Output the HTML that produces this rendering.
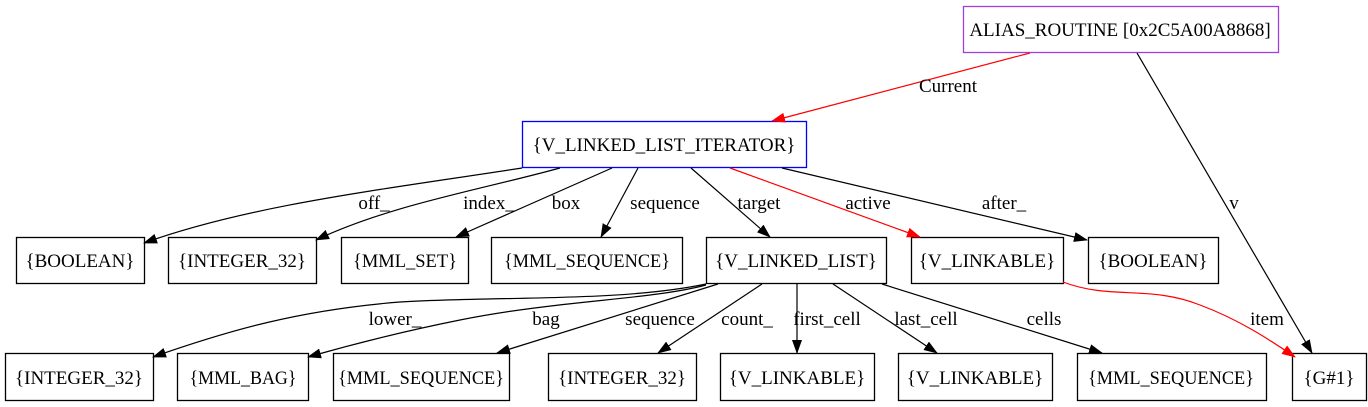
<!DOCTYPE html>
<html><head><meta charset="utf-8"><style>
html,body{margin:0;padding:0;background:#fff;}
svg{display:block;}
text{font-family:"Liberation Serif",serif;font-size:19px;fill:#000;}
</style></head><body>
<svg width="1368" height="407" viewBox="0 0 1368 407" xmlns="http://www.w3.org/2000/svg">
<defs>
<marker id="ab" markerWidth="14" markerHeight="10" refX="13" refY="5" orient="auto" markerUnits="userSpaceOnUse"><polygon points="0,0 14,5 0,10" fill="#000"/></marker>
<marker id="ar" markerWidth="14" markerHeight="10" refX="13" refY="5" orient="auto" markerUnits="userSpaceOnUse"><polygon points="0,0 14,5 0,10" fill="#f00"/></marker>
</defs>
<g fill="#fff" stroke="#000" stroke-width="1.3">
<rect x="963.5" y="6.5" width="315" height="46" stroke="#a040e0"/>
<rect x="522.5" y="121.5" width="284" height="46" stroke="#0000ff"/>
<rect x="16.5" y="237.5" width="128" height="46"/>
<rect x="168.5" y="237.5" width="148" height="46"/>
<rect x="341.5" y="237.5" width="127" height="46"/>
<rect x="491.5" y="237.5" width="191" height="46"/>
<rect x="706.5" y="237.5" width="180" height="46"/>
<rect x="911.5" y="237.5" width="152" height="46"/>
<rect x="1088.5" y="237.5" width="130" height="46"/>
<rect x="5.5" y="353.5" width="148" height="47"/>
<rect x="177.5" y="353.5" width="131" height="47"/>
<rect x="333.5" y="353.5" width="176" height="47"/>
<rect x="548.5" y="353.5" width="148" height="47"/>
<rect x="720.5" y="353.5" width="154" height="47"/>
<rect x="898.5" y="353.5" width="154" height="47"/>
<rect x="1077.5" y="353.5" width="189" height="47"/>
<rect x="1292.5" y="353.5" width="74" height="47"/>
</g>
<g fill="none" stroke="#000" stroke-width="1.2">
<path d="M1030,53 L772,121" stroke="#f00" marker-end="url(#ar)"/>
<path d="M1137,53 L1312,353" marker-end="url(#ab)"/>
<path d="M522,168 C380,190 250,205 144,243" marker-end="url(#ab)"/>
<path d="M560,168 C480,190 390,205 316,240" marker-end="url(#ab)"/>
<path d="M612,168 L456,237" marker-end="url(#ab)"/>
<path d="M638,168 L601,237" marker-end="url(#ab)"/>
<path d="M691,168 L770,237" marker-end="url(#ab)"/>
<path d="M730,168 L920,237" stroke="#f00" marker-end="url(#ar)"/>
<path d="M782,168 L1087,240" marker-end="url(#ab)"/>
<path d="M706,284 C620,302 500,296 400,302 C300,310 230,330 153,357" marker-end="url(#ab)"/>
<path d="M706,285 C650,300 560,300 460,320 C400,332 350,345 308,357" marker-end="url(#ab)"/>
<path d="M718,284 L497,353" marker-end="url(#ab)"/>
<path d="M762,284 L658,353" marker-end="url(#ab)"/>
<path d="M797,284 L797,353" marker-end="url(#ab)"/>
<path d="M833,284 L937,353" marker-end="url(#ab)"/>
<path d="M882,284 L1102,353" marker-end="url(#ab)"/>
<path d="M1063,282 C1110,300 1150,285 1200,305 C1240,320 1270,340 1295,357" stroke="#f00" marker-end="url(#ar)"/>
</g>
<g text-anchor="middle">
<text x="1120" y="36">ALIAS_ROUTINE [0x2C5A00A8868]</text>
<text x="664" y="151">{V_LINKED_LIST_ITERATOR}</text>
<text x="80" y="267">{BOOLEAN}</text>
<text x="242" y="267">{INTEGER_32}</text>
<text x="405" y="267" textLength="104" lengthAdjust="spacingAndGlyphs">{MML_SET}</text>
<text x="587" y="267" textLength="166" lengthAdjust="spacingAndGlyphs">{MML_SEQUENCE}</text>
<text x="796" y="267">{V_LINKED_LIST}</text>
<text x="987" y="267">{V_LINKABLE}</text>
<text x="1153" y="267">{BOOLEAN}</text>
<text x="79" y="384">{INTEGER_32}</text>
<text x="243" y="384" textLength="107" lengthAdjust="spacingAndGlyphs">{MML_BAG}</text>
<text x="421" y="384" textLength="166" lengthAdjust="spacingAndGlyphs">{MML_SEQUENCE}</text>
<text x="622" y="384">{INTEGER_32}</text>
<text x="797" y="384">{V_LINKABLE}</text>
<text x="975" y="384">{V_LINKABLE}</text>
<text x="1171" y="384" textLength="166" lengthAdjust="spacingAndGlyphs">{MML_SEQUENCE}</text>
<text x="1329" y="384">{G#1}</text>
<text x="948" y="92">Current</text>
<text x="1234" y="209">v</text>
<text x="374" y="209">off_</text>
<text x="489" y="209">index_</text>
<text x="566" y="209">box</text>
<text x="665" y="209">sequence</text>
<text x="759" y="209">target</text>
<text x="868" y="209">active</text>
<text x="1004" y="209">after_</text>
<text x="395" y="325">lower_</text>
<text x="546" y="325">bag</text>
<text x="660" y="325">sequence</text>
<text x="747" y="325">count_</text>
<text x="827" y="325">first_cell</text>
<text x="926" y="325">last_cell</text>
<text x="1044" y="325">cells</text>
<text x="1267" y="325">item</text>
</g>
</svg>
</body></html>
